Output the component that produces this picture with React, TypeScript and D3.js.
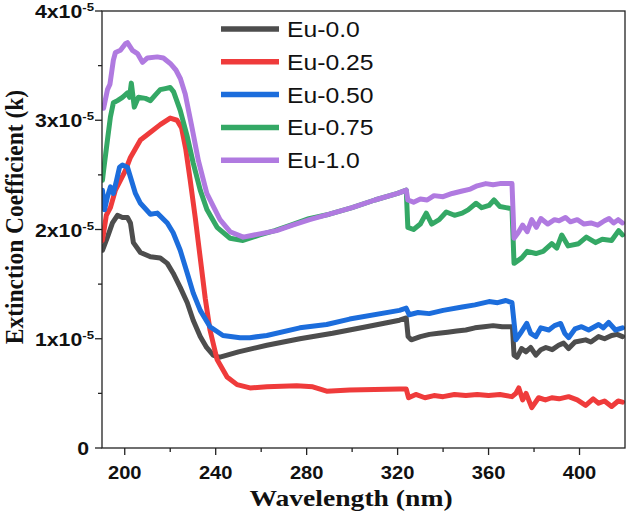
import React from "react";
import * as d3 from "d3";

// Wavelength (nm) and extinction coefficient (in units of 1e-5) per series
const wl00 = [190.2, 192.4, 194.6, 196.8, 199.0, 201.2, 202.5, 203.8, 206.9, 211.3, 215.6, 218.7, 221.3, 224.4, 227.5, 230.1, 233.2, 236.0, 238.9, 241.5, 245, 250, 262.5, 277.0, 291.4, 306.3, 320.8, 323.8, 324.6, 326.0, 330, 334, 338, 342, 346, 350, 354, 358, 362, 366, 370.5, 371.2, 372.5, 374.5, 376.4, 378.5, 380.8, 383, 385.2, 388, 390.8, 393, 395.2, 398, 402.7, 405, 408.4, 411, 414.1, 416.5, 418.9];
const k00 = [1.81, 1.93, 2.06, 2.13, 2.11, 2.11, 2.06, 1.88, 1.79, 1.75, 1.74, 1.69, 1.60, 1.47, 1.33, 1.17, 1.02, 0.92, 0.85, 0.83, 0.85, 0.88, 0.94, 1.00, 1.05, 1.11, 1.17, 1.19, 1.02, 0.99, 1.02, 1.04, 1.05, 1.06, 1.07, 1.08, 1.10, 1.11, 1.12, 1.11, 1.11, 0.85, 0.83, 0.91, 0.88, 0.92, 0.85, 0.90, 0.92, 0.90, 0.94, 0.96, 0.91, 0.97, 0.99, 0.97, 1.02, 1.00, 1.03, 1.04, 1.02];

const wl25 = [190.2, 191.9, 193.7, 195.9, 198.1, 200.3, 202.5, 204.7, 206.9, 211.3, 215.6, 220.0, 223.0, 225.0, 226.8, 228.8, 231.0, 233.2, 235.4, 237.5, 240.6, 245.0, 249.4, 255.1, 262.5, 275.6, 282.7, 288.8, 298.9, 320.8, 323.8, 324.8, 328, 332, 336, 340, 345, 350, 355, 360, 365, 370.3, 372, 373.3, 375, 376.5, 379.0, 382, 385, 387.8, 391, 395.2, 399, 402.7, 406, 408.4, 411, 414.1, 417, 418.9];
const k25 = [1.90, 2.13, 2.20, 2.36, 2.45, 2.54, 2.66, 2.74, 2.82, 2.89, 2.96, 3.02, 3.00, 2.93, 2.74, 2.45, 2.11, 1.74, 1.37, 1.08, 0.81, 0.65, 0.58, 0.55, 0.56, 0.57, 0.56, 0.52, 0.53, 0.54, 0.54, 0.46, 0.49, 0.46, 0.48, 0.47, 0.49, 0.48, 0.49, 0.48, 0.49, 0.47, 0.50, 0.55, 0.44, 0.50, 0.37, 0.46, 0.44, 0.46, 0.45, 0.47, 0.44, 0.39, 0.45, 0.41, 0.43, 0.38, 0.43, 0.42];

const wl50 = [190.2, 191.1, 192.4, 193.7, 195.0, 196.4, 197.7, 199.0, 201.2, 202.5, 204.7, 206.9, 211.3, 214.3, 218.7, 221.3, 224.4, 227.5, 230.1, 233.2, 237.5, 243.2, 250.7, 255, 262.5, 277.0, 288.8, 298.9, 320.8, 323.8, 325.1, 329, 333.9, 340, 348.4, 354, 360.2, 364, 367.6, 370.3, 372.0, 374, 376.8, 378.5, 380.8, 383, 386.5, 389, 391.7, 393.5, 395.2, 398, 400.9, 404, 408.4, 410.5, 412.8, 415.8, 418.9];
const k50 = [2.36, 2.18, 2.30, 2.39, 2.33, 2.45, 2.57, 2.59, 2.57, 2.48, 2.33, 2.24, 2.14, 2.15, 2.06, 1.97, 1.81, 1.60, 1.42, 1.26, 1.11, 1.03, 1.01, 1.01, 1.03, 1.10, 1.13, 1.18, 1.26, 1.28, 1.22, 1.24, 1.23, 1.26, 1.29, 1.31, 1.34, 1.33, 1.35, 1.33, 0.99, 1.05, 1.14, 1.05, 1.02, 1.10, 1.08, 1.12, 1.14, 1.05, 1.01, 1.09, 1.11, 1.08, 1.13, 1.10, 1.15, 1.08, 1.10];

const wl75 = [190.2, 190.7, 192.4, 193.7, 195.0, 196.8, 199.0, 201.2, 202.1, 202.9, 204.2, 206.0, 209.1, 211.3, 213.4, 215.6, 217.8, 220.0, 221.5, 224.4, 227.5, 230.1, 233.2, 236.2, 240.6, 246.3, 252.0, 259.4, 266, 273, 281, 290, 300, 310, 320, 323.8, 324.5, 327, 330, 332.6, 335, 338.3, 341.4, 345, 348.4, 351, 354.5, 357, 360.2, 362.4, 365, 367.6, 370.3, 371.2, 374.6, 377, 380.8, 384, 387.8, 390, 392.2, 395, 399.6, 403, 407.1, 410, 414.1, 417.2, 418.9];
const k75 = [2.45, 2.54, 2.82, 3.03, 3.16, 3.18, 3.21, 3.25, 3.21, 3.34, 3.12, 3.21, 3.20, 3.18, 3.23, 3.28, 3.29, 3.30, 3.26, 3.09, 2.85, 2.61, 2.36, 2.18, 2.02, 1.92, 1.90, 1.95, 1.99, 2.04, 2.10, 2.14, 2.20, 2.27, 2.33, 2.36, 2.02, 2.00, 2.05, 2.15, 2.05, 2.09, 2.16, 2.13, 2.15, 2.18, 2.24, 2.20, 2.22, 2.27, 2.21, 2.20, 2.19, 1.69, 1.74, 1.80, 1.78, 1.80, 1.87, 1.83, 1.95, 1.85, 1.87, 1.93, 1.88, 1.91, 1.90, 1.99, 1.95];

const wl100 = [190.7, 192.4, 193.5, 195.0, 195.9, 198.1, 200.3, 201.2, 203.4, 205.6, 207.8, 210.0, 214.3, 217.0, 220.0, 222.5, 224.5, 226.6, 229.5, 232.4, 236.1, 241.9, 246.3, 252.1, 259.4, 266.8, 273.8, 281.3, 290, 300, 310, 320, 323.8, 324.5, 327, 330, 333, 336, 340, 344, 348, 352, 355, 358.8, 362, 365, 370.3, 371.2, 373, 375, 377, 379, 381, 383, 386, 389, 391, 393.8, 396, 399, 402, 405, 408, 411, 413, 415, 417, 418.9];
const k100 = [3.11, 3.28, 3.33, 3.55, 3.62, 3.64, 3.70, 3.71, 3.64, 3.61, 3.53, 3.57, 3.58, 3.57, 3.52, 3.46, 3.38, 3.24, 2.94, 2.63, 2.33, 2.09, 1.98, 1.93, 1.96, 1.99, 2.04, 2.09, 2.14, 2.20, 2.27, 2.33, 2.36, 2.27, 2.25, 2.28, 2.27, 2.31, 2.30, 2.33, 2.35, 2.37, 2.40, 2.42, 2.41, 2.42, 2.42, 1.92, 1.97, 2.04, 1.98, 2.09, 2.02, 2.10, 2.05, 2.09, 2.08, 2.11, 2.07, 2.09, 2.05, 2.06, 2.04, 2.08, 2.10, 2.06, 2.09, 2.06];

const seriesNames = ["Eu-0.0", "Eu-0.25", "Eu-0.50", "Eu-0.75", "Eu-1.0"];
const seriesColors = ["#4d4d4d", "#ef3b3b", "#1c6ddc", "#34a865", "#b07ae0"];
const seriesWl = [wl00, wl25, wl50, wl75, wl100];
const seriesK = [k00, k25, k50, k75, k100];

const xMajorTicks = [200, 240, 280, 320, 360, 400];
const xMinorTicks = [220, 260, 300, 340, 380];
const yMajorTicks = [0, 1, 2, 3, 4];
const yMinorTicks = [0.5, 1.5, 2.5, 3.5];

const W = 626, H = 519;
const left = 102, right = 625, top = 11, bottom = 448;
const SX = 1.15;

export default function App() {
  const x = d3.scaleLinear().domain([190, 420]).range([left, right]);
  const y = d3.scaleLinear().domain([0, 4]).range([bottom, top]);
  const line = d3.line<[number, number]>().x(d => x(d[0])).y(d => y(d[1]));

  const series = seriesNames.map((name, i) => ({
    name,
    color: seriesColors[i],
    pts: seriesWl[i].map((w, j) => [w, seriesK[i][j]] as [number, number]),
  }));

  const axisColor = "#222";
  const tickFont = "'Liberation Sans', Arial, sans-serif";
  const serif = "'Liberation Serif', 'Times New Roman', serif";

  return (
    <svg width={W} height={H} style={{ position: "absolute", left: 0, top: 0, background: "#fff" }}>
      <defs>
        <clipPath id="plotclip">
          <rect x={left} y={top} width={right - left} height={bottom - top} />
        </clipPath>
      </defs>
      <g clipPath="url(#plotclip)">
        {series.map(s => (
          <path key={s.name} d={line(s.pts) || ""} fill="none" stroke={s.color} strokeWidth={5} strokeLinejoin="round" strokeLinecap="round" />
        ))}
      </g>
      {/* frame */}
      <rect x={left} y={top} width={right - left} height={bottom - top} fill="none" stroke={axisColor} strokeWidth={1.3} />
      {/* x ticks */}
      {xMajorTicks.map(t => (
        <g key={"xm" + t}>
          <line x1={x(t)} x2={x(t)} y1={bottom} y2={bottom + 7} stroke={axisColor} strokeWidth={1.3} />
          <text transform={`translate(${x(t)},479) scale(${SX},1)`} textAnchor="middle" fontFamily={tickFont} fontWeight="bold" fontSize={17.5} fill="#111">{t}</text>
        </g>
      ))}
      {xMinorTicks.map(t => (
        <line key={"xn" + t} x1={x(t)} x2={x(t)} y1={bottom} y2={bottom + 4} stroke={axisColor} strokeWidth={1.3} />
      ))}
      {/* y ticks */}
      {yMajorTicks.map(t => (
        <g key={"ym" + t}>
          <line x1={left - 7} x2={left} y1={y(t)} y2={y(t)} stroke={axisColor} strokeWidth={1.3} />
          {t === 0 ? (
            <text transform={`translate(89,${y(t) + 6.5}) scale(${SX},1)`} textAnchor="end" fontFamily={tickFont} fontWeight="bold" fontSize={18.5} fill="#111">0</text>
          ) : (
            <text transform={`translate(94,${y(t) + 7}) scale(${SX},1)`} textAnchor="end" fontFamily={tickFont} fontWeight="bold" fontSize={18.5} fill="#111">
              {`${t}x10`}
              <tspan fontSize={11.5} dy={-7}>-5</tspan>
            </text>
          )}
        </g>
      ))}
      {yMinorTicks.map(t => (
        <line key={"yn" + t} x1={left - 4} x2={left} y1={y(t)} y2={y(t)} stroke={axisColor} strokeWidth={1.3} />
      ))}
      {/* axis titles */}
      <text transform={`translate(351,506) scale(${SX},1)`} textAnchor="middle" fontFamily={serif} fontWeight="bold" fontSize={24} fill="#111">Wavelength (nm)</text>
      <text transform={`translate(23,217) scale(1.1,1) rotate(-90)`} textAnchor="middle" fontFamily={serif} fontWeight="bold" fontSize={23.5} fill="#111">Extinction Coefficient (k)</text>
      {/* legend */}
      {series.map((s, i) => (
        <g key={"lg" + s.name}>
          <line x1={221} x2={279} y1={29 + i * 32.8} y2={29 + i * 32.8} stroke={s.color} strokeWidth={5.5} />
          <text transform={`translate(287,${37 + i * 32.8}) scale(${SX},1)`} fontFamily={tickFont} fontSize={21.5} fill="#111">{s.name}</text>
        </g>
      ))}
    </svg>
  );
}
